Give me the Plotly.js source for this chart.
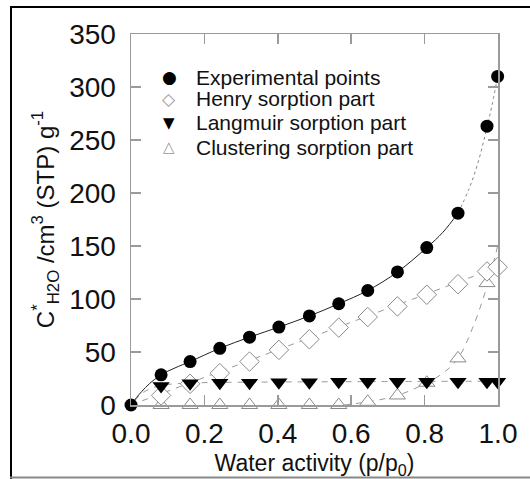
<!DOCTYPE html>
<html>
<head>
<meta charset="utf-8">
<script src="https://cdn.plot.ly/plotly-3.0.1.min.js"></script>
<style>html,body{margin:0;padding:0;background:#fff;}#chart{width:530px;height:479px;}</style>
</head>
<body>
<div id="chart"></div>
<script>
// ---- data ----
var activity = [0, 0.082, 0.161, 0.242, 0.323, 0.403, 0.486, 0.566, 0.645, 0.726, 0.806, 0.891, 0.970, 0.999];
var experimental = [0, 28.5, 41, 53.5, 64, 73.5, 84, 95.5, 108, 125.5, 148.5, 181, 263, 310];

var partActivity = [0.082, 0.161, 0.242, 0.323, 0.403, 0.486, 0.566, 0.645, 0.726, 0.806, 0.891, 0.970, 0.999];
var henry =      [9, 20, 30, 41, 52, 62, 73, 83, 93, 104, 114, 126, 130];
var langmuir =   [18, 20.5, 21, 21, 21.5, 21.5, 22, 22, 22, 22, 22, 22, 22];
var clustActivity = [0.082, 0.161, 0.242, 0.323, 0.403, 0.486, 0.566, 0.645, 0.726, 0.806, 0.891, 0.970];
var clustering = [0, 0, 0, 0, 0, 0, 0, 3, 9, 21, 44, 115];

// model curves
var fitA =  [0, 0.015, 0.03, 0.05, 0.082, 0.12, 0.161, 0.242, 0.323, 0.403, 0.486, 0.566, 0.645, 0.726, 0.806, 0.85, 0.891];
var fitC =  [0, 7, 13, 20, 28.5, 35, 41, 53.5, 64, 73.5, 84, 95.5, 108, 125.5, 148.5, 163, 181];
var fitA2 = [0.891, 0.92, 0.945, 0.97, 0.985, 0.999];
var fitC2 = [181, 203, 228, 262, 285, 310];
var henryFitA = [0, 0.999];
var henryFitC = [0, 130];
var langFitA = [0.01, 0.03, 0.05, 0.082, 0.12, 0.161, 0.3, 0.6, 0.999];
var langFitC = [4, 11, 15, 18.5, 20, 20.8, 21.5, 22, 22.5];
var clustFitA = [0.58, 0.645, 0.726, 0.806, 0.85, 0.891, 0.93, 0.970, 0.999];
var clustFitC = [0, 3, 9, 21, 30, 44, 72, 112, 150];

var legendNames = ['Experimental points', 'Henry sorption part', 'Langmuir sorption part', 'Clustering sorption part'];
var legendGlyphs = ['\u25CF', '\u25C7', '\u25BC', '\u25B3'];

var xTicks = [0, 0.2, 0.4, 0.6, 0.8, 1.0];
var xTickText = ['0.0', '0.2', '0.4', '0.6', '0.8', '1.0'];
var yTicks = [0, 50, 100, 150, 200, 250, 300, 350];

// ---- layout geometry ----
var W = 530, H = 479;
var L = 131, R = 498, T = 34, B = 405;
function px(x) { return (x - L) / (R - L); }
function py(y) { return (B - y) / (B - T); }

var FONT = 'Arial, "Liberation Sans", Helvetica, sans-serif';
var gray = '#9a9a9a';

var traces = [
  {x: henryFitA, y: henryFitC, mode: 'lines', line: {color: gray, width: 1, dash: '6px,6px'}, hoverinfo: 'skip'},
  {x: langFitA, y: langFitC, mode: 'lines', line: {color: gray, width: 1, dash: '6px,6px', shape: 'spline'}, hoverinfo: 'skip'},
  {x: clustFitA, y: clustFitC, mode: 'lines', line: {color: gray, width: 1, dash: '6px,6px', shape: 'spline'}, hoverinfo: 'skip'},
  {x: fitA, y: fitC, mode: 'lines', line: {color: '#222', width: 1, shape: 'spline'}, hoverinfo: 'skip'},
  {x: fitA2, y: fitC2, mode: 'lines', line: {color: '#888', width: 1, dash: 'dot', shape: 'spline'}, hoverinfo: 'skip', cliponaxis: false},
  {x: clustActivity, y: clustering, mode: 'markers', name: legendNames[3], cliponaxis: false,
   marker: {symbol: 'triangle-up', size: 14, color: '#fff', line: {color: '#8a8a8a', width: 1}}},
  {x: partActivity, y: henry, mode: 'markers', name: legendNames[1], cliponaxis: false,
   marker: {symbol: 'diamond', size: 15, color: '#fff', line: {color: '#8a8a8a', width: 1}}},
  {x: partActivity, y: langmuir, mode: 'markers', name: legendNames[2], cliponaxis: false,
   marker: {symbol: 'triangle-down', size: 15, color: '#000', line: {width: 0}}},
  {x: activity, y: experimental, mode: 'markers', name: legendNames[0], cliponaxis: false,
   marker: {symbol: 'circle', size: 13, color: '#000', line: {width: 0}}}
];

var annotations = [];
var legY = [77, 99, 123, 147];
var glyphColors = ['#000', '#999', '#000', '#999'];
var glyphSizes = [17, 17, 15, 15];
for (var i = 0; i < legendNames.length; i++) {
  annotations.push({xref: 'paper', yref: 'paper', x: px(194), y: py(legY[i]), xanchor: 'left', yanchor: 'middle',
    text: legendNames[i], showarrow: false, font: {family: FONT, size: 21, color: '#111'}});
  annotations.push({xref: 'paper', yref: 'paper', x: px(169), y: py(legY[i]), xanchor: 'center', yanchor: 'middle',
    text: legendGlyphs[i], showarrow: false, font: {family: '"DejaVu Sans", sans-serif', size: glyphSizes[i], color: glyphColors[i]}});
}

var layout = {
  width: W, height: H,
  margin: {l: L, r: W - R, t: T, b: H - B, pad: 0},
  paper_bgcolor: '#fff', plot_bgcolor: '#fff',
  showlegend: false,
  font: {family: FONT, color: '#111'},
  xaxis: {
    range: [0, 1.0], tickvals: xTicks, ticktext: xTickText,
    showgrid: false, zeroline: false, showline: true, linecolor: gray, linewidth: 1.5, mirror: 'allticks',
    ticks: 'inside', ticklen: 10, tickcolor: gray, tickwidth: 1.5, ticklabelstandoff: 3,
    tickfont: {family: FONT, size: 28, color: '#111'},
    title: {text: 'Water activity (p/p<sub>0</sub>)', font: {family: FONT, size: 23, color: '#111'}, standoff: 8}
  },
  yaxis: {
    range: [0, 350], tickvals: yTicks,
    showgrid: false, zeroline: false, showline: true, linecolor: gray, linewidth: 1.5, mirror: 'allticks',
    ticks: 'inside', ticklen: 10, tickcolor: gray, tickwidth: 1.5, ticklabelstandoff: 8,
    tickfont: {family: FONT, size: 28, color: '#111'},
    title: {text: 'C<sup>*</sup><sub>H2O</sub> /cm<sup>3</sup> (STP) g<sup>-1</sup>', font: {family: FONT, size: 24, color: '#111'}, standoff: 8}
  },
  annotations: annotations,
  shapes: [
    {type: 'line', xref: 'paper', yref: 'paper', x0: px(11), x1: px(11), y0: py(6), y1: py(479), line: {color: '#000', width: 2}},
    {type: 'line', xref: 'paper', yref: 'paper', x0: px(10), x1: px(531), y0: py(7), y1: py(7), line: {color: '#000', width: 2}},
    {type: 'line', xref: 'paper', yref: 'paper', x0: px(10), x1: px(531), y0: py(477.5), y1: py(477.5), line: {color: '#888', width: 2}}
  ]
};

Plotly.newPlot('chart', traces, layout, {displayModeBar: false, staticPlot: true});
</script>
</body>
</html>
